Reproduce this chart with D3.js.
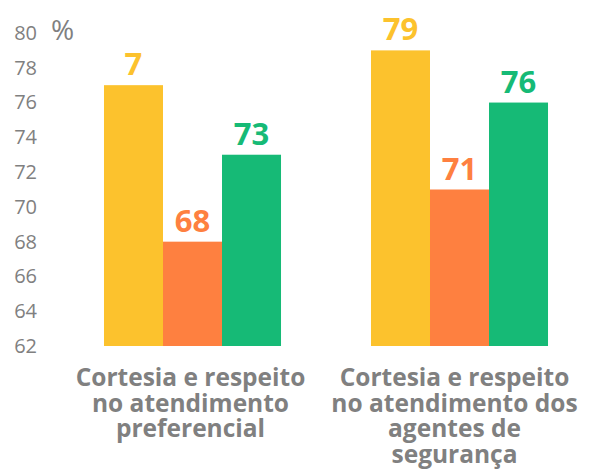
<!DOCTYPE html>
<html>
<head>
<meta charset="utf-8">
<script src="https://cdn.jsdelivr.net/npm/d3@7"></script>
<style>
  html, body { margin: 0; padding: 0; background: #fff; }
  svg { display: block; }
  text { font-family: "Open Sans", "Noto Sans", sans-serif; }
</style>
</head>
<body>
<svg id="chart" width="589" height="469"></svg>
<script>
// Categories (each drawn on several lines)
const categories = [
  ["Cortesia e respeito", "no atendimento", "preferencial"],
  ["Cortesia e respeito", "no atendimento dos", "agentes de", "segurança"]
];
const categoryKeys = ["pref", "seg"];

// Three series per category
const seriesNames = ["s1", "s2", "s3"];
const seriesColors = ["#FCC22D", "#FE8040", "#16BA76"];
const valuesS1 = [77, 79];
const valuesS2 = [68, 71];
const valuesS3 = [73, 76];
// Value labels as printed above the bars
const labelsS1 = ["7", "79"];
const labelsS2 = ["68", "71"];
const labelsS3 = ["73", "76"];

const yTicks = [62, 64, 66, 68, 70, 72, 74, 76, 78, 80];

const svg = d3.select("#chart");

const y = d3.scaleLinear().domain([62, 80]).range([346, 33]);
const x0 = d3.scaleBand().domain(categoryKeys).range([59, 593])
  .paddingInner(0.337).paddingOuter(0.1685);
const x1 = d3.scaleBand().domain(seriesNames).range([0, x0.bandwidth()]).padding(0);

const grey = "#808080";

// Y axis: labels only
const yAxis = d3.axisLeft(y).tickValues(yTicks).tickSize(0).tickPadding(0);
const gy = svg.append("g").attr("transform", "translate(37,0)").call(yAxis);
gy.select(".domain").remove();
gy.selectAll("text")
  .attr("fill", grey)
  .style("font-size", "20px")
  .style("font-family", "'Open Sans', sans-serif");

svg.append("text")
  .attr("x", 51).attr("y", 40)
  .attr("fill", grey)
  .style("font-size", "28px")
  .text("%");

const rows = categoryKeys.map((k, i) => ({
  key: k,
  vals: [
    { s: "s1", v: valuesS1[i], label: labelsS1[i], c: seriesColors[0] },
    { s: "s2", v: valuesS2[i], label: labelsS2[i], c: seriesColors[1] },
    { s: "s3", v: valuesS3[i], label: labelsS3[i], c: seriesColors[2] }
  ]
}));

const groups = svg.selectAll("g.grp").data(rows).join("g")
  .attr("class", "grp")
  .attr("transform", d => `translate(${x0(d.key)},0)`);

groups.selectAll("rect").data(d => d.vals).join("rect")
  .attr("x", d => x1(d.s))
  .attr("width", x1.bandwidth())
  .attr("y", d => y(d.v))
  .attr("height", d => y(62) - y(d.v))
  .attr("fill", d => d.c);

groups.selectAll("text.val").data(d => d.vals).join("text")
  .attr("class", "val")
  .attr("x", d => x1(d.s) + x1.bandwidth() / 2)
  .attr("y", d => y(d.v) - 10)
  .attr("text-anchor", "middle")
  .attr("fill", d => d.c)
  .style("font-size", "31px")
  .style("font-weight", "700")
  .text(d => d.label);

// Category labels below the bars
const xAxis = d3.axisBottom(x0).tickSize(0).tickFormat("");
svg.append("g").attr("transform", "translate(0,346)").call(xAxis)
  .select(".domain").remove();

rows.forEach((r, i) => {
  const t = svg.append("text")
    .attr("text-anchor", "middle")
    .attr("fill", grey)
    .style("font-size", "24.5px")
    .style("font-weight", "700");
  categories[i].forEach((line, j) => {
    t.append("tspan")
      .attr("x", x0(r.key) + x0.bandwidth() / 2 - (i === 1 ? 5 : 2))
      .attr("y", 386 + j * 25.5)
      .text(line);
  });
});
</script>
</body>
</html>
